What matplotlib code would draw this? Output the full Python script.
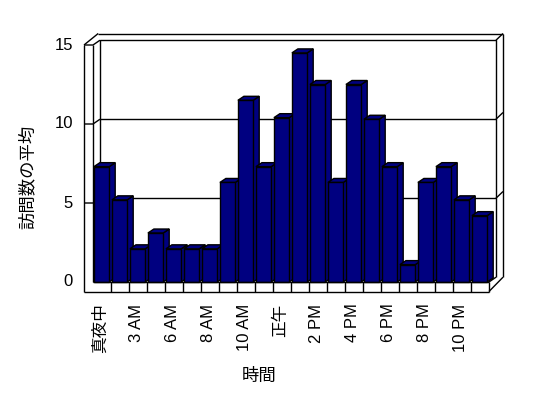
import matplotlib
matplotlib.use("Agg")
import matplotlib.pyplot as plt
from matplotlib.patches import Polygon

plt.rcParams['font.family'] = ['Liberation Sans', 'Noto Sans CJK JP', 'DejaVu Sans']

# ---- data ----
categories = ['真夜中', '1 AM', '3 AM', '4 AM', '6 AM', '7 AM', '8 AM', '9 AM',
              '10 AM', '11 AM', '正午', '1 PM', '2 PM', '3 PM', '4 PM', '5 PM',
              '6 PM', '7 PM', '8 PM', '9 PM', '10 PM', '11 PM']
values = [7.3, 5.2, 2.1, 3.1, 2.1, 2.1, 2.1, 6.3, 11.5, 7.3, 10.4,
          14.5, 12.5, 6.3, 12.5, 10.3, 7.3, 1.1, 6.3, 7.3, 5.2, 4.2]
y_ticks = [0, 5, 10, 15]
x_title = '時間'
y_title = '訪問数の平均'

# ---- layout (pixels) ----
W, H = 548, 398
X0, X1 = 93, 489      # front plane x extent (categories)
Y0, Y1 = 282, 45      # front plane y for value 0 and 15
n = len(values)
ymax = y_ticks[-1]

fig = plt.figure(figsize=(W / 100, H / 100), dpi=100)
ax = fig.add_axes([X0 / W, (H - Y0) / H, (X1 - X0) / W, (Y0 - Y1) / H])
ax.set_xlim(0, n)
ax.set_ylim(0, ymax)
ax.axis('off')

sx = (X1 - X0) / n          # px per category
sy = (Y0 - Y1) / ymax       # px per value unit


def d(px, py):
    """pixel offset -> data offset"""
    return px / sx, py / sy


DX, DY = d(7, 4.8)          # depth to back wall
BX, BY = d(7, 6.7)          # back wall thickness
LW, _ = d(9, 0)             # left wall thickness
_, FT = d(0, 9.5)           # floor thickness
bdx, bdy = d(6, 4)          # bar depth

lk = dict(color='black', lw=1.0, solid_capstyle='butt', clip_on=False)


def line(xs, ys, z=1):
    ax.plot(xs, ys, zorder=z, **lk)


# back wall
line([DX, DX, n + DX, n + DX], [DY, ymax + DY, ymax + DY, DY])
line([DX - 0.1, n + DX + BX], [ymax + DY + BY, ymax + DY + BY])
line([n + DX + BX, n + DX + BX], [ymax + DY + BY, DY])
line([n + DX, n + DX + BX], [ymax + DY, ymax + DY + BY])
for t in y_ticks[1:-1]:
    line([DX, n + DX], [t + DY, t + DY])
    line([n + DX, n + DX + BX], [t + DY, t + DY + BY])
    line([-LW, 0, DX], [t, t, t + DY])

# left wall
line([-LW, -LW], [-FT, ymax])
line([0, 0], [0, ymax])
line([-LW, 0, DX], [ymax, ymax, ymax + DY])
line([-LW, DX - 0.1], [ymax, ymax + DY + BY])

# floor
line([-LW, n], [-FT, -FT], z=5)
line([0, n], [0, 0], z=5)
line([n, n], [-FT, 0], z=5)
line([n, n + DX], [0, DY], z=5)
line([n, n + DX + BX], [-FT, DY], z=5)
for i in range(1, n):
    line([i, i], [-FT, 0], z=5)

# bars
navy = '#000080'
x_left = [i + 0.05 for i in range(n)]
w = 0.85
bars = ax.bar(x_left, values, width=w, align='edge', color=navy,
              edgecolor='black', linewidth=1.0, clip_on=False)
for i, (xl, v, b) in enumerate(zip(x_left, values, bars)):
    z = 2 + i * 0.01
    side = Polygon([(xl + w, 0), (xl + w + bdx, bdy), (xl + w + bdx, v + bdy),
                    (xl + w, v)], closed=True, facecolor=navy,
                   edgecolor='black', lw=1.0, zorder=z, clip_on=False)
    top = Polygon([(xl, v), (xl + bdx, v + bdy), (xl + w + bdx, v + bdy),
                   (xl + w, v)], closed=True, facecolor=navy,
                  edgecolor='black', lw=1.0, zorder=z, clip_on=False)
    ax.add_patch(side)
    ax.add_patch(top)
    b.set_zorder(z + 0.005)

# tick labels
lx, _ = d(-11, 0)
for t in y_ticks:
    ax.text(-LW + lx, t, str(t), ha='right', va='center', fontsize=12)
_, ly = d(0, -16)
for i in range(0, n, 2):
    ax.text(i + 0.42, -FT + ly + 0.25, categories[i], rotation=90,
            ha='center', va='top', fontsize=12, rotation_mode='default')

fig.text(27 / W, 1 - 177 / H, y_title, rotation=90, ha='center', va='center',
         fontsize=12.5)
fig.text(259 / W, 1 - 375.5 / H, x_title, ha='center', va='center',
         fontsize=12.5)

fig.savefig('out.png', dpi=100)
